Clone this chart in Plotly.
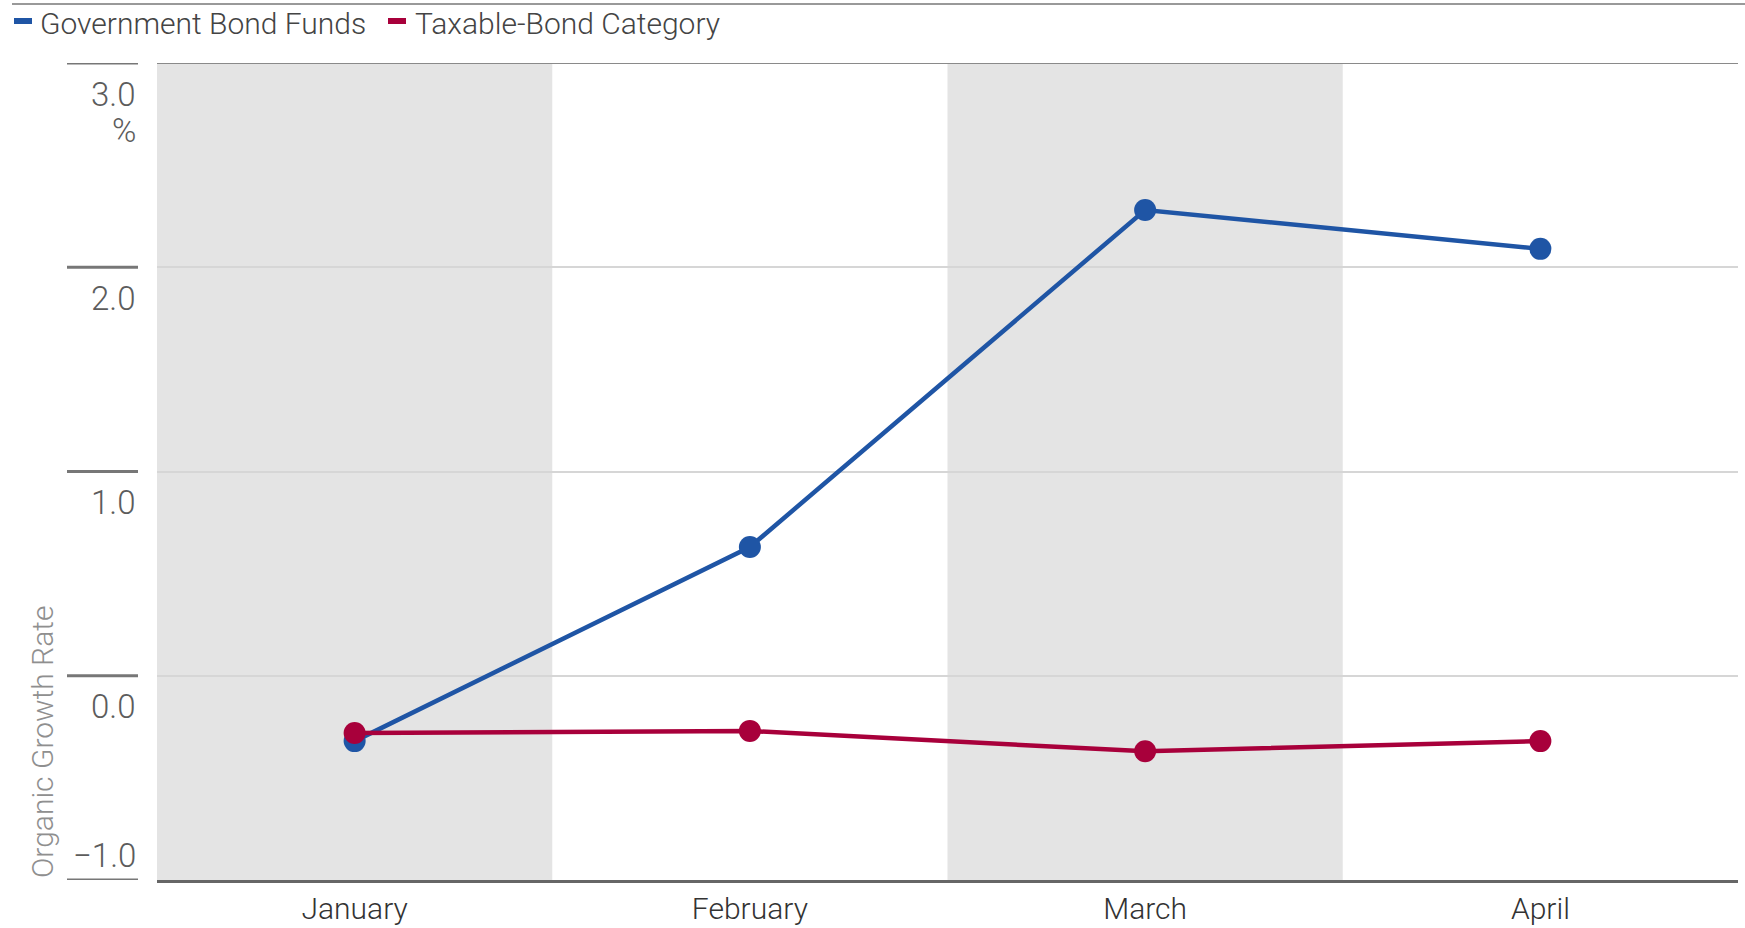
import plotly.graph_objects as go

# Monthly organic growth rate (%)
months = ["January", "February", "March", "April"]
gov_bond_funds = [-0.32, 0.63, 2.28, 2.09]
taxable_bond_category = [-0.28, -0.27, -0.37, -0.32]

series_names = ["Government Bond Funds", "Taxable-Bond Category"]
series_colors = ["#1f55a5", "#a8003b"]

y_tick_values = [-1, 0, 1, 2, 3]
y_tick_labels = ["\u22121.0", "0.0", "1.0", "2.0", "3.0"]
y_unit = "%"
y_title = "Organic Growth Rate"

FONT = "Roboto, sans-serif"

W, H = 1745, 928
L, R, T, B = 157, 7, 63, 48
PW, PH = W - L - R, H - T - B


def px_x(p):
    return (p - L) / PW


def px_y(p):
    return (H - B - p) / PH


fig = go.Figure()
for name, vals, color in zip(series_names, [gov_bond_funds, taxable_bond_category], series_colors):
    fig.add_trace(go.Scatter(
        x=months, y=vals, name=name, mode="lines+markers",
        line=dict(color=color, width=4.5),
        marker=dict(color=color, size=22),
        showlegend=False,
    ))

shapes = []
# alternating shaded month bands
for i in range(0, len(months), 2):
    shapes.append(dict(type="rect", xref="x", yref="paper", x0=i - 0.5, x1=i + 0.5, y0=0, y1=1,
                       fillcolor="#e4e4e4", line=dict(width=0), layer="below"))
# tick marks left of the plot area
for v in y_tick_values:
    shapes.append(dict(type="line", xref="paper", yref="y", x0=px_x(67), x1=px_x(138), y0=v, y1=v,
                       line=dict(color="#777777", width=3)))
# top border of plot
shapes.append(dict(type="line", xref="paper", yref="y", x0=0, x1=1, y0=max(y_tick_values), y1=max(y_tick_values),
                   line=dict(color="#8a8a8a", width=2), layer="between"))
# header rule
shapes.append(dict(type="line", xref="paper", yref="paper", x0=px_x(12), x1=px_x(W), y0=px_y(4), y1=px_y(4),
                   line=dict(color="#777777", width=1.5)))
# legend swatches
swatch_x = [(14, 32), (388, 406)]
for (a, b), color in zip(swatch_x, series_colors):
    shapes.append(dict(type="line", xref="paper", yref="paper", x0=px_x(a), x1=px_x(b), y0=px_y(21), y1=px_y(21),
                       line=dict(color=color, width=6)))

annotations = []
legend_text_x = [38, 413]
for name, xpos in zip(series_names, legend_text_x):
    annotations.append(dict(text=name, xref="paper", yref="paper", x=px_x(xpos), y=px_y(23),
                            xanchor="left", yanchor="middle", showarrow=False,
                            font=dict(family=FONT, size=30, weight=300, color="#444444")))
# y tick labels: below each gridline, except the lowest which sits above it
for v, lab in zip(y_tick_values, y_tick_labels):
    shift = 25 if v == min(y_tick_values) else -31
    annotations.append(dict(text=lab, xref="paper", yref="y", x=px_x(138), y=v, yshift=shift,
                            xanchor="right", yanchor="middle", showarrow=False,
                            font=dict(family=FONT, size=33, weight=300, color="#5c5c5c")))
annotations.append(dict(text=y_unit, xref="paper", yref="y", x=px_x(138), y=max(y_tick_values), yshift=-67,
                        xanchor="right", yanchor="middle", showarrow=False,
                        font=dict(family=FONT, size=33, weight=300, color="#5c5c5c")))
annotations.append(dict(text=y_title, xref="paper", yref="paper", x=px_x(42), y=0,
                        textangle=-90, xanchor="center", yanchor="bottom", showarrow=False,
                        font=dict(family=FONT, size=30, weight=300, color="#8f8f8f")))

fig.update_layout(
    width=W, height=H,
    margin=dict(l=L, r=R, t=T, b=B, pad=0),
    paper_bgcolor="white", plot_bgcolor="white",
    shapes=shapes, annotations=annotations,
    showlegend=False,
    xaxis=dict(type="category", range=[-0.5, len(months) - 0.5], showgrid=False, zeroline=False,
               showline=True, linecolor="#666666", linewidth=3, ticks="", automargin=False,
               tickfont=dict(family=FONT, size=30, weight=300, color="#333333"), ticklabelstandoff=0),
    yaxis=dict(range=[min(y_tick_values), max(y_tick_values)], tickvals=y_tick_values,
               showticklabels=False, showgrid=True, gridcolor="#d6d6d6", gridwidth=2,
               zeroline=False, showline=False, ticks="", automargin=False),
)

fig.write_html("out.html")
